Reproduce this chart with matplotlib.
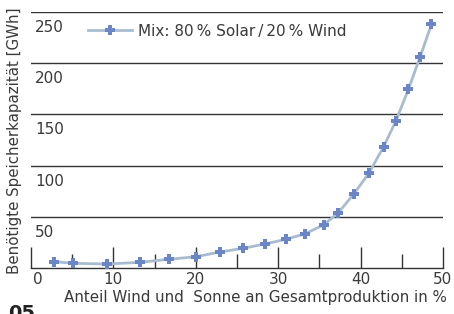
import matplotlib
matplotlib.use("Agg")
import matplotlib.pyplot as plt
from matplotlib.transforms import blended_transform_factory, ScaledTranslation

# anteil wind+sonne (%) und benoetigte speicherkapazitaet (GWh)
share = [2.8, 5.1, 9.2, 13.2, 16.7, 20.0, 22.9, 25.7, 28.4, 30.9,
         33.2, 35.5, 37.3, 39.2, 41.0, 42.8, 44.3, 45.8, 47.2, 48.6]
storage = [6.2, 4.6, 3.9, 5.5, 8.5, 11.0, 15.6, 19.2, 23.4, 28.0,
           33.2, 42.0, 54.0, 72.6, 92.5, 118.5, 143.9, 174.5, 205.7, 238.0]

yticks = [50, 100, 150, 200, 250]
xticks = [0, 10, 20, 30, 40, 50]
xminor = [5, 15, 25, 35, 45]

TXT = "#3a3a3a"
LINE = "#a9bccf"
MARK = "#6a86c6"

fig = plt.figure(figsize=(4.54, 3.14), dpi=100)
ax = fig.add_axes([31/454, 1-268/314, 412/454, 256/314])

ax.plot(share, storage, color=LINE, lw=2, marker="P", ms=7.5,
        mfc=MARK, mec=MARK, mew=0, label="Mix: 80\u2009% Solar\u2009/\u200920\u2009% Wind",
        zorder=3)

ax.set_xlim(0, 50)
ax.set_ylim(0, 250)

for s in ["top", "right", "left"]:
    ax.spines[s].set_visible(False)
ax.spines["bottom"].set_color("#333333")
ax.spines["bottom"].set_linewidth(1)

for v in yticks:
    ax.axhline(v, color="#333333", lw=1, zorder=1)

# y labels sit inside the axes, just under each gridline
trans = blended_transform_factory(ax.transAxes, ax.transData)
off = ScaledTranslation(4/100, -8/100, fig.dpi_scale_trans)
for v in yticks:
    ax.text(0, v, str(v), transform=trans + off, ha="left", va="top",
            fontsize=11, color=TXT)
ax.set_yticks([])

ax.set_xticks(xticks)
ax.set_xticks(xminor, minor=True)
ax.tick_params(axis="x", which="major", direction="in", length=15, width=1,
               color="#333333", labelsize=11, labelcolor=TXT, pad=3)
ax.tick_params(axis="x", which="minor", direction="in", length=10, width=1,
               color="#333333")
# first label is nudged right so it clears the edge
lab0 = ax.get_xticklabels()[0]
lab0.set_transform(lab0.get_transform() + ScaledTranslation(7/100, 0, fig.dpi_scale_trans))

ax.set_xlabel("Anteil Wind und  Sonne an Gesamtproduktion in %", fontsize=10.9,
              color=TXT)
ax.xaxis.set_label_coords(0.544, -0.085)
ax.set_ylabel("Benötigte Speicherkapazität [GWh]", fontsize=10.8, color=TXT)
ax.yaxis.set_label_coords(-0.022, 0.497)

leg = ax.legend(loc="upper left", bbox_to_anchor=(0.105, 1.008), frameon=False,
                fontsize=11, handlelength=2.9, handletextpad=0.4, labelcolor=TXT)

fig.text(8/454, 1-304/314, "05", fontsize=14, fontweight="bold",
         color="#222222", va="top")

fig.savefig("out.png", dpi=100)
